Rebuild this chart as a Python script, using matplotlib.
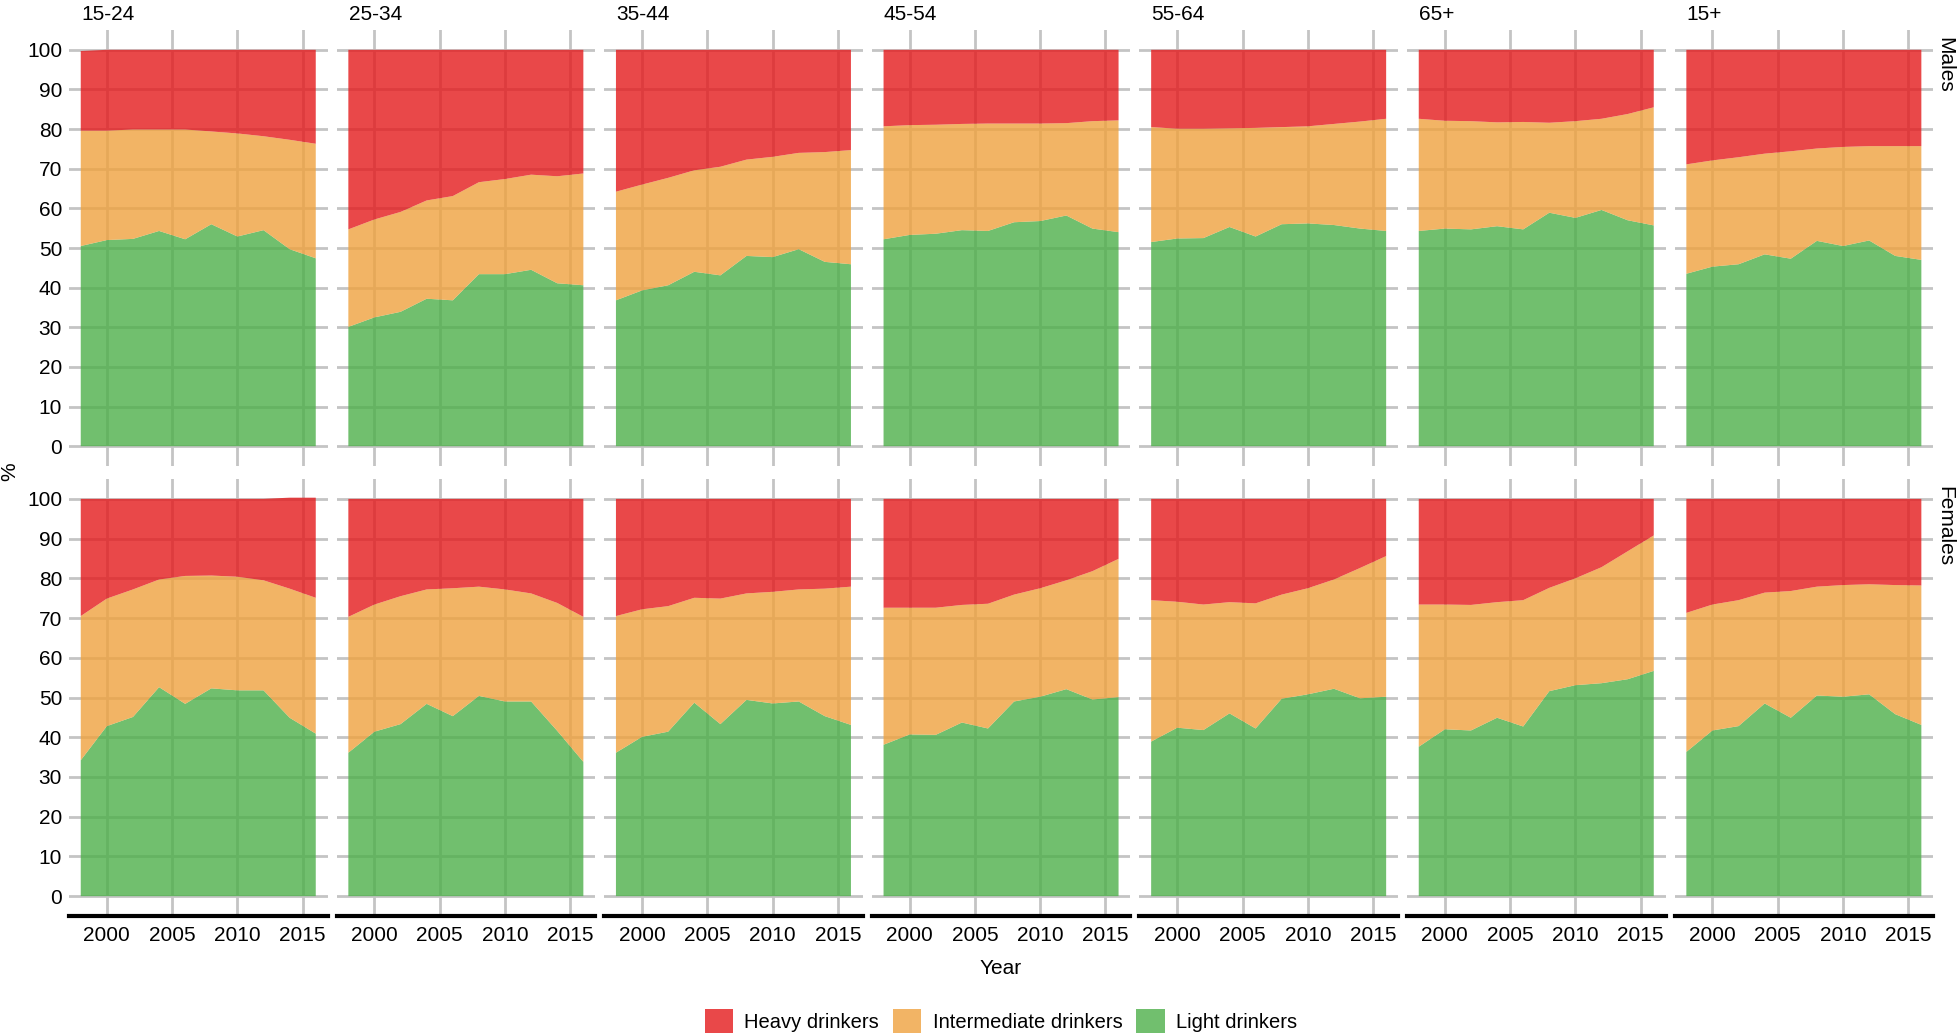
import matplotlib.pyplot as plt
from matplotlib.patches import Patch

plt.rcParams['font.family'] = ['Liberation Sans', 'DejaVu Sans']

years = [1998, 2000, 2002, 2004, 2006, 2008, 2010, 2012, 2014, 2016]
age_groups = ['15-24', '25-34', '35-44', '45-54', '55-64', '65+', '15+']
sexes = ['Males', 'Females']

# shares in % per age group (same order as age_groups)
light_males = [
    [50.5, 52.0, 52.3, 54.3, 52.2, 56.0, 52.9, 54.5, 49.7, 47.4],
    [30.1, 32.5, 33.9, 37.2, 36.8, 43.4, 43.4, 44.5, 41.1, 40.6],
    [36.8, 39.3, 40.6, 44.0, 43.1, 48.0, 47.7, 49.7, 46.5, 45.9],
    [52.2, 53.3, 53.6, 54.5, 54.3, 56.5, 56.8, 58.2, 54.9, 54.0],
    [51.5, 52.4, 52.5, 55.3, 52.9, 56.0, 56.2, 55.8, 54.9, 54.3],
    [54.3, 54.9, 54.7, 55.5, 54.7, 58.9, 57.6, 59.6, 57.0, 55.7],
    [43.5, 45.3, 45.9, 48.4, 47.3, 51.8, 50.5, 51.9, 48.0, 47.0],
]
inter_males = [
    [29.1, 27.6, 27.6, 25.6, 27.7, 23.4, 26.0, 23.7, 27.6, 28.9],
    [24.6, 24.7, 25.2, 24.8, 26.3, 23.2, 24.0, 24.0, 27.0, 28.2],
    [27.4, 26.7, 27.1, 25.6, 27.4, 24.3, 25.3, 24.3, 27.7, 28.8],
    [28.5, 27.7, 27.5, 26.8, 27.1, 24.9, 24.6, 23.3, 27.1, 28.2],
    [29.0, 27.7, 27.6, 24.9, 27.4, 24.5, 24.5, 25.5, 27.0, 28.3],
    [28.3, 27.2, 27.3, 26.2, 27.1, 22.7, 24.4, 23.0, 26.8, 29.8],
    [27.6, 26.8, 27.0, 25.4, 27.1, 23.3, 25.0, 23.8, 27.7, 28.7],
]
heavy_males = [
    [20.1, 20.4, 20.1, 20.1, 20.1, 20.6, 21.1, 21.8, 22.7, 23.7],
    [45.3, 42.8, 40.9, 38.0, 36.9, 33.4, 32.6, 31.5, 31.9, 31.2],
    [35.8, 34.0, 32.3, 30.4, 29.5, 27.7, 27.0, 26.0, 25.8, 25.3],
    [19.3, 19.0, 18.9, 18.7, 18.6, 18.6, 18.6, 18.5, 18.0, 17.8],
    [19.5, 19.9, 19.9, 19.8, 19.7, 19.5, 19.3, 18.7, 18.1, 17.4],
    [17.4, 17.9, 18.0, 18.3, 18.2, 18.4, 18.0, 17.4, 16.2, 14.5],
    [28.9, 27.9, 27.1, 26.2, 25.6, 24.9, 24.5, 24.3, 24.3, 24.3],
]
light_females = [
    [34.2, 42.8, 45.1, 52.6, 48.4, 52.3, 51.8, 51.8, 44.9, 40.9],
    [36.1, 41.4, 43.3, 48.4, 45.3, 50.4, 49.0, 49.0, 41.6, 33.8],
    [36.1, 40.1, 41.4, 48.7, 43.3, 49.4, 48.5, 49.0, 45.3, 43.1],
    [38.1, 40.7, 40.6, 43.7, 42.2, 49.0, 50.2, 52.1, 49.5, 50.1],
    [38.9, 42.4, 41.8, 46.0, 42.2, 49.7, 50.8, 52.2, 49.8, 50.2],
    [37.6, 42.0, 41.7, 44.9, 42.7, 51.6, 53.1, 53.6, 54.6, 56.7],
    [36.3, 41.7, 42.8, 48.5, 44.9, 50.5, 50.2, 50.8, 45.8, 43.1],
]
inter_females = [
    [36.3, 32.1, 32.1, 27.1, 32.2, 28.4, 28.6, 27.7, 32.5, 34.2],
    [34.2, 32.0, 32.2, 28.8, 32.2, 27.5, 28.2, 27.2, 32.2, 36.5],
    [34.4, 32.1, 31.6, 26.4, 31.6, 26.8, 28.1, 28.2, 32.1, 34.8],
    [34.5, 31.9, 32.0, 29.6, 31.4, 26.9, 27.3, 27.4, 32.3, 34.8],
    [35.6, 31.7, 31.6, 28.0, 31.5, 26.2, 26.7, 27.5, 32.8, 35.4],
    [35.8, 31.4, 31.6, 29.1, 31.8, 26.0, 26.9, 29.2, 32.2, 34.1],
    [35.0, 31.7, 31.7, 27.9, 31.9, 27.4, 28.1, 27.7, 32.5, 35.1],
]
heavy_females = [
    [29.5, 25.1, 22.8, 20.3, 19.4, 19.3, 19.6, 20.5, 22.9, 25.2],
    [29.7, 26.6, 24.5, 22.8, 22.5, 22.1, 22.8, 23.8, 26.2, 29.7],
    [29.5, 27.8, 27.0, 24.9, 25.1, 23.8, 23.4, 22.8, 22.6, 22.1],
    [27.4, 27.4, 27.4, 26.7, 26.4, 24.1, 22.5, 20.5, 18.2, 15.1],
    [25.5, 25.9, 26.6, 26.0, 26.3, 24.1, 22.5, 20.3, 17.4, 14.4],
    [26.6, 26.6, 26.7, 26.0, 25.5, 22.4, 20.0, 17.2, 13.2, 9.2],
    [28.7, 26.6, 25.5, 23.6, 23.2, 22.1, 21.7, 21.5, 21.7, 21.8],
]

labels = ['Heavy drinkers', 'Intermediate drinkers', 'Light drinkers']
col_heavy = '#E41A1C'
col_inter = '#EFA23E'
col_light = '#4DAF4A'
alpha = 0.8
grid_col = '#C4C4C4'
fs = 15

W, H = 1960, 1036
fig = plt.figure(figsize=(W / 100, H / 100), dpi=100)

left0 = 69
step = 267.6
aw = 258.5
rows = [(30, 466), (479, 916)]  # top / bottom pixel of each row

data = {
    'Males': (light_males, inter_males, heavy_males),
    'Females': (light_females, inter_females, heavy_females),
}

for r, sex in enumerate(sexes):
    top, bot = rows[r]
    light, inter, heavy = data[sex]
    for c, grp in enumerate(age_groups):
        x0 = left0 + c * step
        ax = fig.add_axes([x0 / W, 1 - bot / H, aw / W, (bot - top) / H])
        ax.stackplot(years, light[c], inter[c], heavy[c],
                     colors=[col_light, col_inter, col_heavy], alpha=alpha,
                     linewidth=0, zorder=2)
        ax.set_xlim(1997.1, 2016.9)
        ax.set_ylim(-5, 105)
        ax.set_xticks([2000, 2005, 2010, 2015])
        ax.set_yticks(range(0, 101, 10))
        ax.grid(True, color=grid_col, linewidth=2, zorder=1)
        ax.set_axisbelow(True)
        for s in ['top', 'right', 'left']:
            ax.spines[s].set_visible(False)
        if r == 1:
            ax.spines['bottom'].set_visible(True)
            ax.spines['bottom'].set_linewidth(3)
            ax.spines['bottom'].set_color('black')
            ax.tick_params(axis='x', labelsize=fs, length=0, pad=7)
        else:
            ax.spines['bottom'].set_visible(False)
            ax.tick_params(axis='x', labelbottom=False, length=0)
        if c == 0:
            ax.tick_params(axis='y', labelsize=fs, length=0, pad=5)
        else:
            ax.tick_params(axis='y', labelleft=False, length=0)
        if r == 0:
            fig.text((x0 + 12) / W, 1 - 15 / H, grp, fontsize=fs,
                     ha='left', va='center')
    fig.text(1945 / W, 1 - (top + 7) / H, sex, fontsize=fs, rotation=270,
             ha='center', va='top')

fig.text(10 / W, 1 - 472 / H, '%', fontsize=fs, rotation=90,
         ha='center', va='center')
fig.text(1001 / W, 1 - 969 / H, 'Year', fontsize=fs, ha='center', va='center')

handles = [Patch(facecolor=col_heavy, alpha=alpha, edgecolor='none'),
           Patch(facecolor=col_inter, alpha=alpha, edgecolor='none'),
           Patch(facecolor=col_light, alpha=alpha, edgecolor='none')]
fig.legend(handles, labels, loc='center', bbox_to_anchor=(1001 / W, 1 - 1021 / H),
           ncol=3, frameon=False, fontsize=14.5, handlelength=1.4,
           handleheight=1.4, handletextpad=0.55, columnspacing=0.7)

fig.savefig('out.png', dpi=100)
